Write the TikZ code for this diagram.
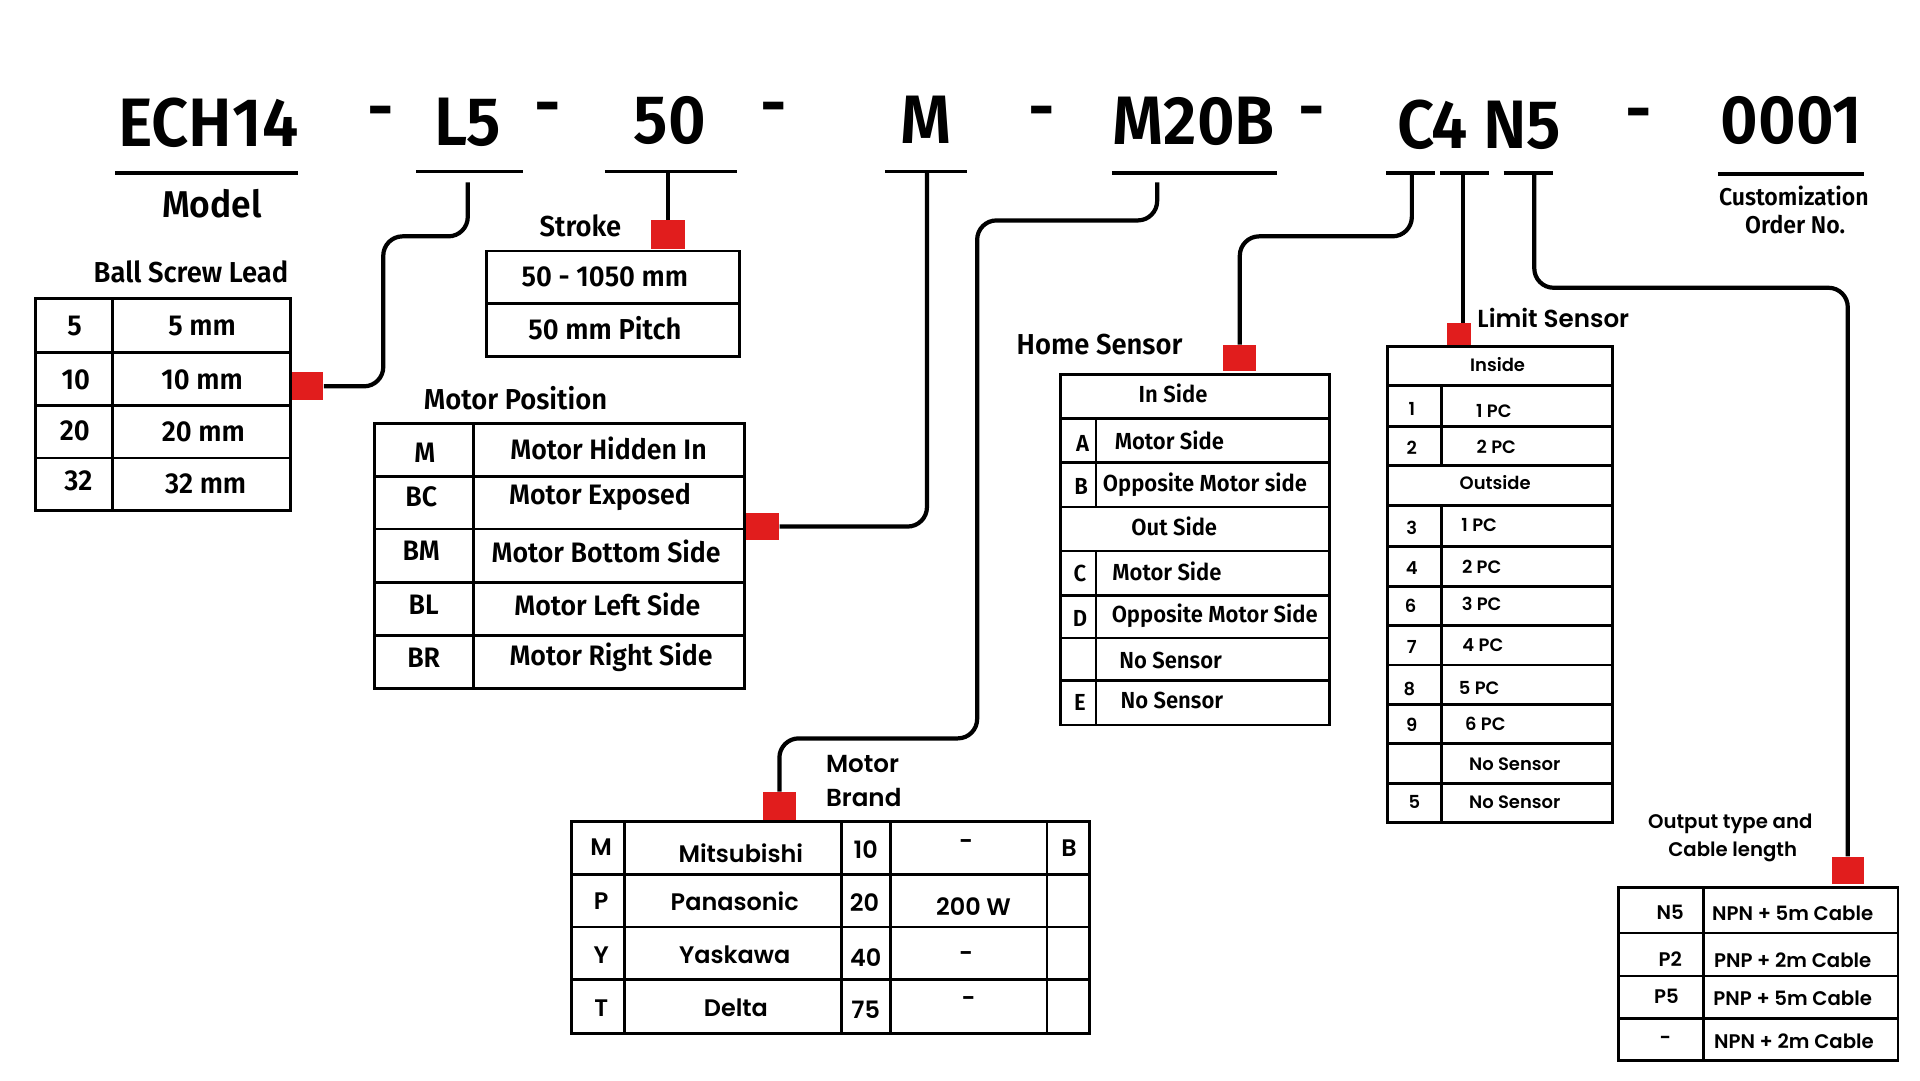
\documentclass[tikz,border=0pt]{standalone}
\usepackage{fontspec}
\setmainfont{Fira Sans}
\newfontfamily\cond[FakeStretch=0.95, BoldFont={Fira Sans SemiBold}]{Fira Sans}
\newfontfamily\geo[BoldFont={Poppins SemiBold}]{Poppins}
\definecolor{myred}{RGB}{225,29,29}
\newcommand\fsz[1]{\fontsize{#1}{#1}\selectfont}
\def\px{0.12245mm}
\tikzset{
  conn/.style={line width=1.2pt, rounded corners=5.5pt, line join=round},
  uline/.style={line width=1.1pt},
  tb/.style={line width=0.8pt},
  redsq/.style={fill=myred, draw=none, inner sep=0},
  big/.style={font=\cond\bfseries\fsz{19.5}, inner sep=0},
  ttl/.style={font=\cond\bfseries\fsz{8.2}, inner sep=0},
  cell/.style={font=\cond\bfseries\fsz{8.2}, inner sep=0},
  mcell/.style={font=\cond\bfseries\fsz{8}, inner sep=0},
  hcell/.style={font=\cond\bfseries\fsz{6.6}, inner sep=0},
  ptl/.style={font=\geo\bfseries\fsz{7}, inner sep=0},
  pcell/.style={font=\geo\bfseries\fsz{5.1}, inner sep=0},
  ocell/.style={font=\geo\bfseries\fsz{5.6}, inner sep=0},
  bcell/.style={font=\geo\bfseries\fsz{6.8}, inner sep=0},
}
\begin{document}
\begin{tikzpicture}[x=0.012245cm, y=-0.012245cm]
\useasboundingbox (0,0) rectangle (1568,882);
\fill[white] (0,0) rectangle (1568,882);

% ---------- top code line ----------
\node[big] (tECH) at (170,100) {ECH14};
\node[big] (d1) at (311,97) {-};
\node[big] (tL5) at (382,100) {L5};
\node[big] (d2) at (447,94) {-};
\node[big] (t50) at (547,98) {50};
\node[big] (d3) at (632,94) {-};
\node[big] (tM) at (756,98) {M};
\node[big] (d4) at (851,97) {-};
\node[big] (tM20B) at (975,99) {M20B};
\node[big] (d5) at (1071,97) {-};
\node[big] (tC4) at (1170,102) {C4};
\node[big] (tN5) at (1243,102) {N5};
\node[big] (d6) at (1338,99) {-};
\node[big] (t0001) at (1463,98) {0001};

% underlines
\draw[uline] (94,141) -- (243,141);
\draw[uline] (340,140) -- (427,140);
\draw[uline] (494,140) -- (602,140);
\draw[uline] (723,140) -- (790,140);
\draw[uline] (908,141) -- (1043,141);
\draw[uline] (1132,141) -- (1172,141);
\draw[uline] (1176,141) -- (1216,141);
\draw[uline] (1228,141) -- (1268,141);
\draw[uline] (1403,142) -- (1522,142);

\coordinate (uL5) at (382,149);
\coordinate (u50) at (545.5,141);
\coordinate (uM) at (757,141);
\coordinate (uM20B) at (945,149);
\coordinate (uC4) at (1153,141);
\coordinate (uMid) at (1195,141);
\coordinate (uN5) at (1253,141);

\node[font=\cond\bfseries\fsz{10.6}, inner sep=0] (model) at (173,166) {Model};
\node[font=\cond\bfseries\fsz{6.9}, inner sep=0] (cust1) at (1465,160) {Customization};
\node[font=\cond\bfseries\fsz{6.9}, inner sep=0] (cust2) at (1466,183) {Order No.};

% ---------- red squares ----------
\node[redsq, minimum width=26*\px, minimum height=23*\px] (r1) at (251,315.5) {};
\node[redsq, minimum width=27*\px, minimum height=23*\px] (r2) at (545.5,191.5) {};
\node[redsq, minimum width=27*\px, minimum height=22*\px] (r3) at (622.5,430) {};
\node[redsq, minimum width=27*\px, minimum height=23*\px] (r4) at (636.5,658.5) {};
\node[redsq, minimum width=27*\px, minimum height=21*\px] (r5) at (1012.5,292.5) {};
\node[redsq, minimum width=19*\px, minimum height=18*\px] (r6) at (1191.5,273) {};
\node[redsq, minimum width=26*\px, minimum height=22*\px] (r7) at (1509,711) {};

% ---------- connectors ----------
\draw[conn] (uL5) -- (382,193) -- (313,193) -- (313,315.5) -- (r1.east);
\draw[conn] (u50) -- (r2.north);
\draw[conn] (uM) -- (757,430) -- (r3.east);
\draw[conn] (uM20B) -- (945,180) -- (798,180) -- (798,603) -- (636.5,603) -- (r4.north);
\draw[conn] (uC4) -- (1153,193) -- (1012.5,193) -- (r5.north);
\draw[conn] (uMid) -- (uMid |- r6.north);
\draw[conn] (uN5) -- (1253,235) -- (1509,235) -- (r7.north);

% ---------- Ball Screw Lead ----------
\node[ttl] (bslT) at (156,222) {Ball Screw Lead};
\draw[tb] (29,244) rectangle (237,417);
\draw[tb] (92,244) -- (92,417);
\foreach \yy in {288,331,374} \draw[tb] (29,\yy) -- (237,\yy);
\node[cell] (b1a) at (61,266) {5};
\node[cell] (b1b) at (165,266) {5 mm};
\node[cell] (b2a) at (62,310) {10};
\node[cell] (b2b) at (165,310) {10 mm};
\node[cell] (b3a) at (61,352) {20};
\node[cell] (b3b) at (166,353) {20 mm};
\node[cell] (b4a) at (64,393) {32};
\node[cell] (b4b) at (168,395) {32 mm};

% ---------- Stroke ----------
\node[ttl] (strT) at (474,184) {Stroke};
\draw[tb] (397,205) rectangle (604,291);
\draw[tb] (397,248) -- (604,248);
\node[cell] (s1) at (494,226) {50 - 1050 mm};
\node[cell] (s2) at (494,268) {50 mm Pitch};

% ---------- Motor Position ----------
\node[ttl] (mpT) at (421,325) {Motor Position};
\draw[tb] (306,346) rectangle (608,562);
\draw[tb] (387,346) -- (387,562);
\foreach \yy in {389,432,476,519} \draw[tb] (306,\yy) -- (608,\yy);
\node[mcell] (m1a) at (347,370) {M};
\node[mcell] (m1b) at (497,366) {Motor Hidden In};
\node[mcell] (m2a) at (344,406) {BC};
\node[mcell] (m2b) at (490,406) {Motor Exposed};
\node[mcell] (m3a) at (344,450) {BM};
\node[mcell] (m3b) at (495,450) {Motor Bottom Side};
\node[mcell] (m4a) at (346,494) {BL};
\node[mcell] (m4b) at (496,494) {Motor Left Side};
\node[mcell] (m5a) at (346,537) {BR};
\node[mcell] (m5b) at (499,537) {Motor Right Side};

% ---------- Home Sensor ----------
\node[ttl] (hsT) at (898,281) {Home Sensor};
\draw[tb] (866,306) rectangle (1086,592);
\foreach \yy in {342,378,414,450,486,521,556} \draw[tb] (866,\yy) -- (1086,\yy);
\draw[tb] (895,342) -- (895,414);
\draw[tb] (895,450) -- (895,592);
\node[hcell] (h0) at (958,321) {In Side};
\node[hcell] (h1a) at (884,362) {A};
\node[hcell] (h1b) at (955,360) {Motor Side};
\node[hcell] (h2a) at (883,397) {B};
\node[hcell] (h2b) at (984,396) {Opposite Motor side};
\node[hcell] (h3) at (959,430) {Out Side};
\node[hcell] (h4a) at (882,468) {C};
\node[hcell] (h4b) at (953,467) {Motor Side};
\node[hcell] (h5a) at (882,505) {D};
\node[hcell] (h5b) at (992,503) {Opposite Motor Side};
\node[hcell] (h6b) at (956,539) {No Sensor};
\node[hcell] (h7a) at (882,574) {E};
\node[hcell] (h7b) at (957,572) {No Sensor};

% ---------- Limit Sensor ----------
\node[ptl, anchor=west] (lsT) at (1206,260) {Limit Sensor};
\draw[tb] (1133,283) rectangle (1317,672);
\foreach \yy in {315,348,380,413,446,479,511,543,575,607,640} \draw[tb] (1133,\yy) -- (1317,\yy);
\draw[tb] (1177,315) -- (1177,380);
\draw[tb] (1177,413) -- (1177,672);
\node[pcell] (l0) at (1223,298) {Inside};
\node[pcell] (l1a) at (1153,334) {1};
\node[pcell] (l1b) at (1220,336) {1 PC};
\node[pcell] (l2a) at (1153,366) {2};
\node[pcell] (l2b) at (1222,365) {2 PC};
\node[pcell] (l3) at (1221,394) {Outside};
\node[pcell] (l4a) at (1153,431) {3};
\node[pcell] (l4b) at (1208,429) {1 PC};
\node[pcell] (l5a) at (1153,464) {4};
\node[pcell] (l5b) at (1210,463) {2 PC};
\node[pcell] (l6a) at (1152,495) {6};
\node[pcell] (l6b) at (1210,493) {3 PC};
\node[pcell] (l7a) at (1153,528) {7};
\node[pcell] (l7b) at (1211,527) {4 PC};
\node[pcell] (l8a) at (1151,563) {8};
\node[pcell] (l8b) at (1208,562) {5 PC};
\node[pcell] (l9a) at (1153,592) {9};
\node[pcell] (l9b) at (1213,591) {6 PC};
\node[pcell] (l10b) at (1237,624) {No Sensor};
\node[pcell] (l11a) at (1155,655) {5};
\node[pcell] (l11b) at (1237,655) {No Sensor};

% ---------- Output type ----------
\node[ocell] (oT1) at (1413,673) {Output type and};
\node[ocell] (oT2) at (1415,696) {Cable length};
\draw[tb] (1322,725) rectangle (1550,866);
\draw[tb] (1391,725) -- (1391,866);
\foreach \yy in {762,797,832} \draw[tb] (1322,\yy) -- (1550,\yy);
\node[ocell] (o1a) at (1364,745) {N5};
\node[ocell] (o1b) at (1464,746) {NPN + 5m Cable};
\node[ocell] (o2a) at (1364,783) {P2};
\node[ocell] (o2b) at (1464,784) {PNP + 2m Cable};
\node[ocell] (o3a) at (1361,814) {P5};
\node[ocell] (o3b) at (1464,815) {PNP + 5m Cable};
\node[ocell] (o4a) at (1360,850) {-};
\node[ocell] (o4b) at (1465,850) {NPN + 2m Cable};

% ---------- Motor Brand ----------
\node[ptl, anchor=west] (mbT1) at (674,624) {Motor};
\node[ptl, anchor=west] (mbT2) at (674,651) {Brand};
\draw[tb] (467,671) rectangle (890,844);
\foreach \xx in {510,687,727,855} \draw[tb] (\xx,671) -- (\xx,844);
\foreach \yy in {714,757,800} \draw[tb] (467,\yy) -- (890,\yy);
\node[bcell] (k1a) at (491,692) {M};
\node[bcell] (k1b) at (605,697) {Mitsubishi};
\node[bcell] (k1c) at (707,694) {10};
\node[bcell] (k1d) at (789,690) {-};
\node[bcell] (k1e) at (873,693) {B};
\node[bcell] (k2a) at (491,736) {P};
\node[bcell] (k2b) at (600,736) {Panasonic};
\node[bcell] (k2c) at (706,737) {20};
\node[bcell] (k2d) at (795,740) {200 W};
\node[bcell] (k3a) at (491,780) {Y};
\node[bcell] (k3b) at (600,780) {Yaskawa};
\node[bcell] (k3c) at (707,782) {40};
\node[bcell] (k3d) at (789,781) {-};
\node[bcell] (k4a) at (491,823) {T};
\node[bcell] (k4b) at (601,823) {Delta};
\node[bcell] (k4c) at (707,825) {75};
\node[bcell] (k4d) at (791,818) {-};
\end{tikzpicture}
\end{document}
